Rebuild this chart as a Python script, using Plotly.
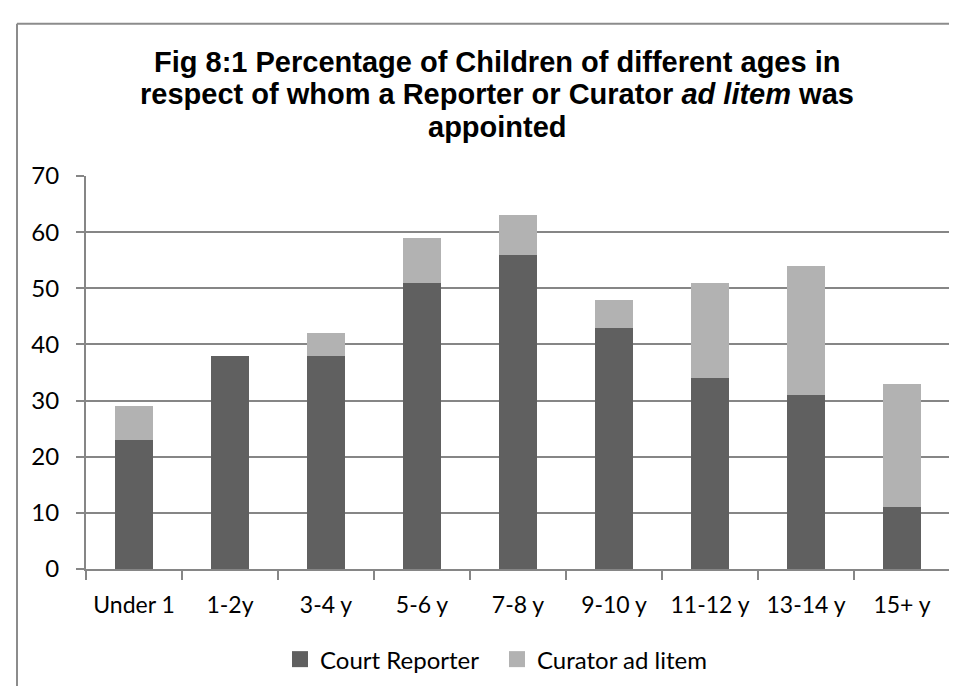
import plotly.graph_objects as go

# age groups and percentages
age_groups = ["Under 1", "1-2y", "3-4 y", "5-6 y", "7-8 y", "9-10 y", "11-12 y", "13-14 y", "15+ y"]
court_reporter = [23, 38, 38, 51, 56, 43, 34, 31, 11]
curator_ad_litem = [6, 0, 4, 8, 7, 5, 17, 23, 22]
y_ticks = [0, 10, 20, 30, 40, 50, 60, 70]
series_names = ["Court Reporter", "Curator ad litem"]
title_lines = [
    "<b>Fig 8:1 Percentage of Children of different ages in</b>",
    "<b>respect of whom a Reporter or Curator <i>ad litem</i> was</b>",
    "<b>appointed</b>",
]

DARK = "#606060"
LIGHT = "#b2b2b2"
GRID = "#868686"
LABEL_FONT = "Lato, Open Sans, sans-serif"
TITLE_FONT = "Liberation Sans, Arial, sans-serif"

# plot area in pixels: x 78..942, y 168..563
PL, PW, PB, PH = 78, 864, 563, 395


def px_x(x):
    return (x - PL) / PW


def px_y(y):
    return (PB - y) / PH


fig = go.Figure()
for name, vals, col in zip(series_names, [court_reporter, curator_ad_litem], [DARK, LIGHT]):
    fig.add_trace(go.Bar(x=age_groups, y=vals, name=name, showlegend=False,
                         marker=dict(color=col, line=dict(width=0))))
    # legend-only entry so the swatch can be a bigger square
    fig.add_trace(go.Scatter(x=[None], y=[None], name=name, mode="markers",
                             marker=dict(symbol="square", size=16, color=col)))

fig.update_layout(
    width=957, height=686,
    barmode="stack", bargap=0.6,
    paper_bgcolor="white", plot_bgcolor="white",
    margin=dict(l=PL, r=957 - PL - PW, t=PB - PH, b=686 - PB),
    font=dict(family=LABEL_FONT, size=23, color="black"),
    showlegend=True,
    legend=dict(orientation="h", x=px_x(272), xanchor="left", y=px_y(654), yanchor="middle",
                font=dict(family=LABEL_FONT, size=24), traceorder="normal",
                entrywidth=172, entrywidthmode="pixels", bgcolor="rgba(0,0,0,0)"),
    xaxis=dict(showline=True, linecolor=GRID, linewidth=2, ticks="outside",
               tickson="boundaries", ticklen=9, tickcolor=GRID, tickwidth=2,
               showgrid=False, tickfont=dict(size=23), ticklabelstandoff=14),
    yaxis=dict(range=[0, 70], tickvals=y_ticks, showline=True, linecolor=GRID, linewidth=2,
               ticks="outside", ticklen=8, tickcolor=GRID, tickwidth=2,
               showgrid=True, gridcolor=GRID, gridwidth=2, zeroline=False,
               tickfont=dict(size=24), ticklabelstandoff=12),
)

# title, one annotation per line to keep the tight line spacing
for line, mid in zip(title_lines, [53, 86, 119]):
    fig.add_annotation(text=line, xref="paper", yref="paper", x=px_x(489), y=px_y(mid),
                       xanchor="center", yanchor="middle", showarrow=False,
                       font=dict(family=TITLE_FONT, size=29, color="black"))

# outer chart border (only left and top edges show in the frame)
fig.add_shape(type="line", xref="paper", yref="paper", x0=px_x(9), x1=px_x(990),
              y0=px_y(15), y1=px_y(15), line=dict(color="#8c8c8c", width=2))
fig.add_shape(type="line", xref="paper", yref="paper", x0=px_x(9), x1=px_x(9),
              y0=px_y(700), y1=px_y(15), line=dict(color="#8c8c8c", width=2))

fig.write_html("out.html")
